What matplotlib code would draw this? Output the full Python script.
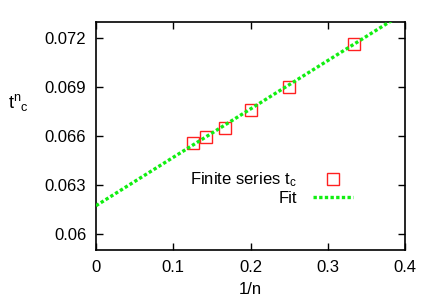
import numpy as np
import matplotlib
matplotlib.use("Agg")
import matplotlib.pyplot as plt

plt.rcParams['font.family'] = ['Liberation Sans', 'DejaVu Sans']
plt.rcParams['mathtext.fontset'] = 'custom'
plt.rcParams['mathtext.rm'] = 'Liberation Sans'
plt.rcParams['mathtext.it'] = 'Liberation Sans'
plt.rcParams['mathtext.default'] = 'regular'

# finite series estimates, n = 8..3
inv_n = [1/8, 1/7, 1/6, 1/5, 1/4, 1/3]
tc_n = [0.06555, 0.06596, 0.06649, 0.06758, 0.06900, 0.07163]

# linear fit t_c(1/n) = a + b/n
fit_a = 0.06172
fit_b = 0.0297
fit_x = [0.0, 0.4]

xticks = [0, 0.1, 0.2, 0.3, 0.4]
xtick_labels = ['0', '0.1', '0.2', '0.3', '0.4']
yticks = [0.060, 0.063, 0.066, 0.069, 0.072]
ytick_labels = ['0.06', '0.063', '0.066', '0.069', '0.072']

fs = 12

fig = plt.figure(figsize=(4.36, 3.05), dpi=100)
ax = fig.add_axes([96/436, 1 - 250/305, 309/436, 228/305])

ax.plot(inv_n, tc_n, 's', ms=8.5, mfc='none', mec='#ff2020', mew=1.0,
        label='Finite series t$_c$', zorder=2)
fx = np.array(fit_x)
ax.plot(fx, fit_a + fit_b * fx, color='#11ee11', lw=2.4, dashes=(1.0, 0.7),
        label='Fit', zorder=3)

ax.set_xlim(0, 0.4)
ax.set_ylim(0.059, 0.073)
ax.set_xticks(xticks)
ax.set_xticklabels(xtick_labels)
ax.set_yticks(yticks)
ax.set_yticklabels(ytick_labels)
ax.tick_params(direction='in', top=True, right=True, length=5, width=1,
               labelsize=fs, pad=7)
for s in ax.spines.values():
    s.set_linewidth(1.2)

ax.set_xlabel('1/n', fontsize=fs, labelpad=5)
ax.set_ylabel('t$^{n}{}_{c}$', fontsize=fs + 1, rotation=0)
ax.yaxis.set_label_coords(-0.25, 0.60)

ax.legend(loc='upper right', bbox_to_anchor=(0.86, 0.385), frameon=False,
          markerfirst=False, fontsize=fs, handlelength=2.4,
          handletextpad=1.0, labelspacing=0.1, borderpad=0)

fig.savefig('out.png', dpi=100)
